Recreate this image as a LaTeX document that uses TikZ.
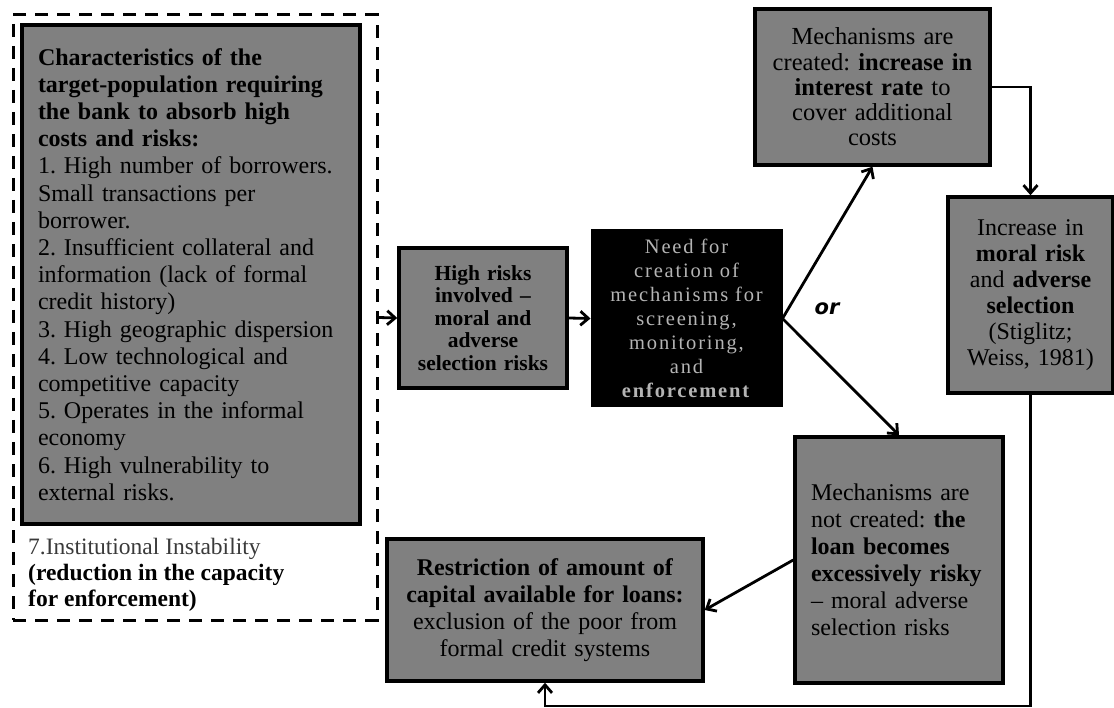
\documentclass[tikz,border=0pt]{standalone}
\usepackage{fontspec}
\setmainfont{Liberation Serif}
\newfontfamily\orfont{DejaVu Sans}
\usetikzlibrary{arrows.meta}
\definecolor{boxgray}{HTML}{808080}
\definecolor{lighttext}{HTML}{B4B4B4}
\definecolor{darktext}{HTML}{3A3A3A}
\frenchspacing
\begin{document}
\begin{tikzpicture}[x=1pt,y=-1pt,
  gbox/.style={draw=black, line width=3.5pt, fill=boxgray, inner sep=0pt, align=center},
  conn/.style={line width=2.8pt, -{Straight Barb[length=8pt,width=14pt,line width=2.8pt]}},
  dashbox/.style={draw=black, line width=3pt, dash pattern=on 13pt off 9pt, inner sep=0pt}
]
\useasboundingbox (0,0) rectangle (1114,708);

% dashed outer frame
\node[dashbox, minimum width=364pt, minimum height=605pt] (frame) at (195,317.5) {};

% characteristics box
\node[gbox, minimum width=338pt, minimum height=499pt, text width=306pt, align=left,
      font=\fontsize{24}{27.2}\selectfont] (chars) at (191,274.5)
{\textbf{Characteristics of the}\\
 \textbf{target-population requiring}\\
 \textbf{the bank to absorb high}\\
 \textbf{costs and risks:}\\
 1. High number of borrowers.\\
 Small transactions per\\
 borrower.\\
 2. Insufficient collateral and\\
 information (lack of formal\\
 credit history)\\
 3. High geographic dispersion\\
 4. Low technological and\\
 competitive capacity\\
 5. Operates in the informal\\
 economy\\
 6. High vulnerability to\\
 external risks.};

% institutional instability
\node[anchor=west, align=left, inner sep=0pt, font=\fontsize{23.5}{26}\selectfont] (inst) at (28,575)
{\textcolor{darktext}{7.Institutional Instability}\\
 \textbf{(reduction in the capacity}\\
 \textbf{for enforcement)}};

% high risks
\node[gbox, minimum width=168pt, minimum height=140pt, text width=168pt,
      font=\fontsize{21.5}{22.5}\selectfont\bfseries] (risk) at (483,318)
{High risks\\ involved –\\ moral and\\ adverse\\ selection risks};

% need for creation
\node[draw=black, line width=1pt, fill=black, text=lighttext, inner sep=0pt, align=center,
      minimum width=191pt, minimum height=177pt, text width=191pt,
      font=\fontsize{20.5}{24}\selectfont\addfontfeature{LetterSpace=9}] (need) at (686.5,318.5)
{Need for\\ creation of\\ mechanisms for\\ screening,\\ monitoring,\\ and\\ \textbf{enforcement}};

% mechanisms created
\node[gbox, minimum width=235pt, minimum height=156pt, text width=235pt,
      font=\fontsize{24.5}{25.3}\selectfont] (top) at (872.5,87)
{Mechanisms are\\ created: \textbf{increase in}\\ \textbf{interest rate} to\\ cover additional\\ costs};

% increase in moral risk
\node[gbox, minimum width=165pt, minimum height=196pt, text width=165pt,
      font=\fontsize{24}{26}\selectfont] (right) at (1030.5,295)
{Increase in\\ \textbf{moral risk}\\ and \textbf{adverse}\\ \textbf{selection}\\ (Stiglitz;\\ Weiss, 1981)};

% mechanisms not created
\node[gbox, minimum width=208pt, minimum height=246pt, text width=176pt, align=left,
      font=\fontsize{24}{27}\selectfont] (bot) at (899,560)
{Mechanisms are\\ not created: \textbf{the}\\ \textbf{loan becomes}\\ \textbf{excessively risky}\\ – moral adverse\\ selection risks};

% restriction
\node[gbox, minimum width=316pt, minimum height=142pt, text width=316pt,
      font=\fontsize{24}{27}\selectfont] (restr) at (545,610)
{\textbf{Restriction of amount of}\\ \textbf{capital available for loans:}\\ exclusion of the poor from\\ formal credit systems};

% or label
\node[font=\orfont\bfseries\itshape\fontsize{21}{24}\selectfont, inner sep=0pt] (or) at (827,309) {or};

\coordinate (lowright) at (1030.5,706);

\draw[conn] (frame.east) -- (risk.west);
\draw[conn] (risk.east) -- (need.west);
\draw[conn] (need.east) -- (top.south);
\draw[conn] (need.east) -- (bot.north);
\draw[conn] (top.east) -| (right.north);
\draw[conn] (right.south) -- (lowright) -| (restr.south);
\draw[conn] (bot.west) -- (restr.east);
\end{tikzpicture}
\end{document}
